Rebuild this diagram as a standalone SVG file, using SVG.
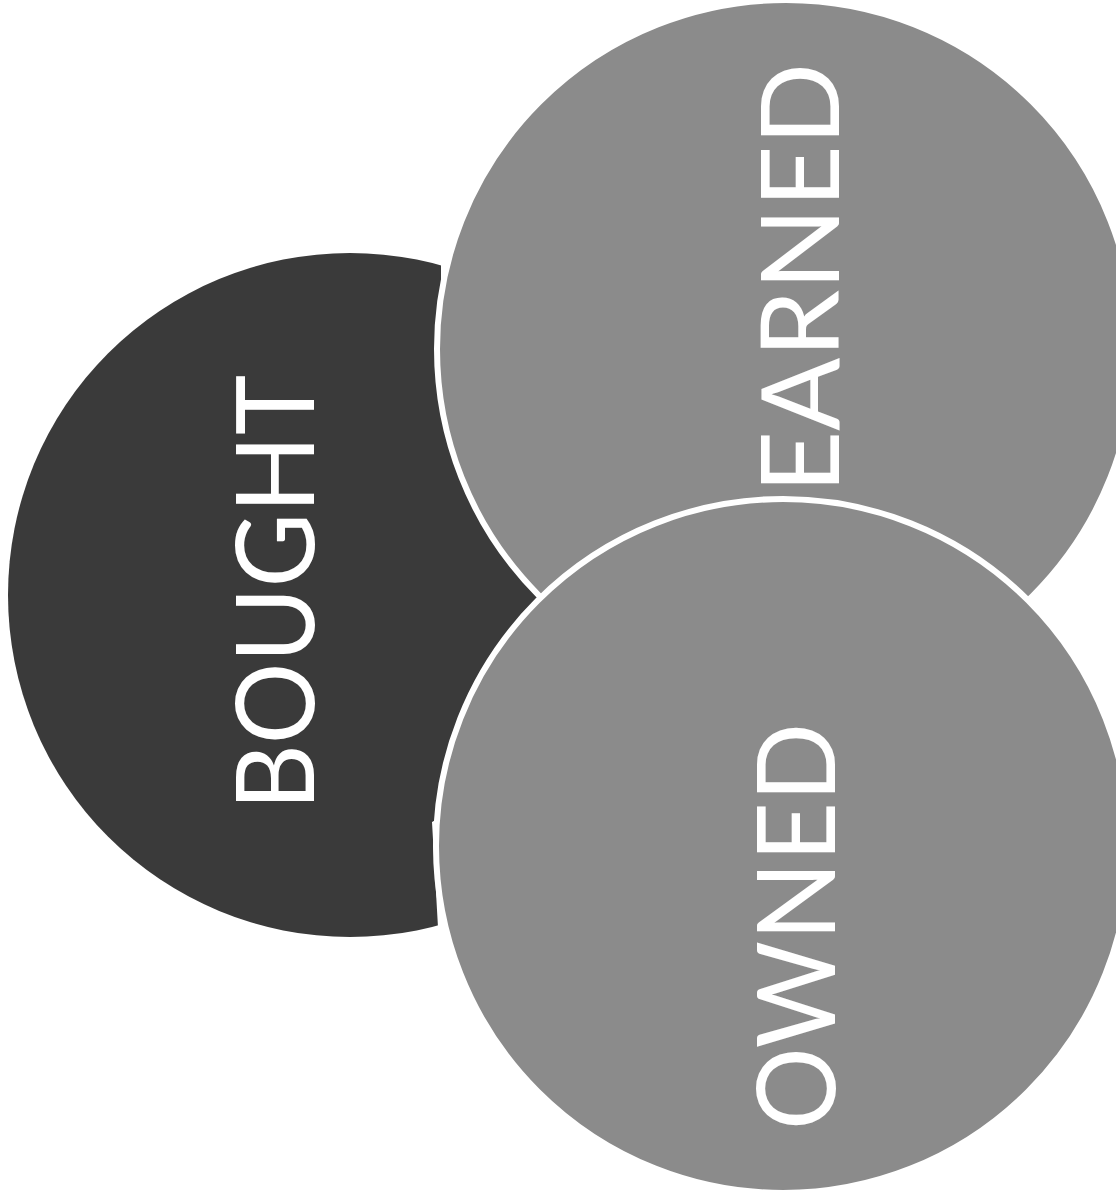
<svg xmlns="http://www.w3.org/2000/svg" width="1116" height="1193" viewBox="0 0 1116 1193">
  <style>
    .dark { fill: #3a3a3a; }
    .gray { fill: #8b8b8b; stroke: #ffffff; stroke-width: 6; }
    .label { fill: #ffffff; font-family: Lato, "Liberation Sans", sans-serif; font-size: 108px; text-anchor: middle; }
  </style>
  <defs>
    <clipPath id="boughtClip">
      <polygon points="0,0 441,0 441,300 650,300 650,700 432,822 439,945 0,945"/>
    </clipPath>
  </defs>
  <rect x="0" y="0" width="1116" height="1193" fill="#ffffff"/>
  <g id="node-bought">
    <circle class="dark" cx="350" cy="595" r="342" clip-path="url(#boughtClip)"/>
    <text class="label" x="0" y="0" transform="translate(314,592.5) rotate(-90) scale(0.945,1)">BOUGHT</text>
  </g>
  <g id="node-earned">
    <circle class="gray" cx="786" cy="349" r="349"/>
    <text class="label" x="0" y="0" transform="translate(839,278) rotate(-90)">EARNED</text>
  </g>
  <g id="node-owned">
    <circle class="gray" cx="783" cy="846" r="347"/>
    <text class="label" x="0" y="0" transform="translate(835,926.5) rotate(-90) scale(0.96,1)">OWNED</text>
  </g>
  <g id="connectors"/>
</svg>
